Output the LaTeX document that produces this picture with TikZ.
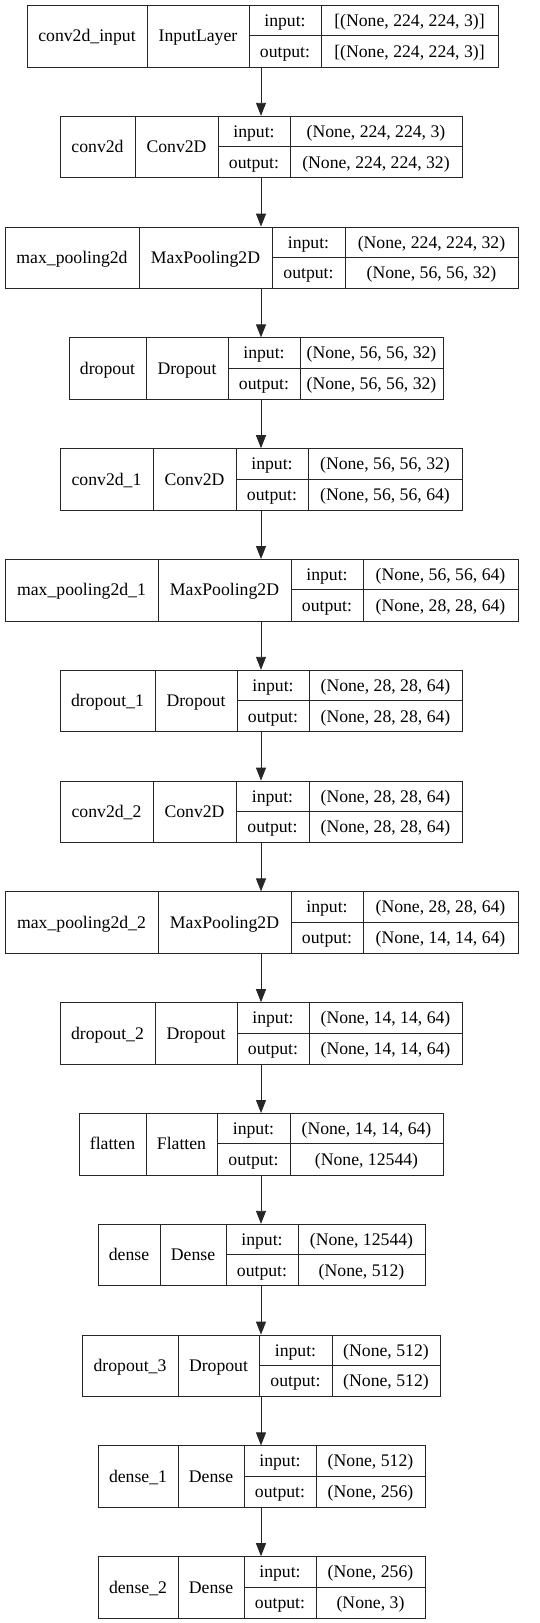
\documentclass[tikz,border=0pt]{standalone}
\usepackage{fontspec}
\setmainfont{Liberation Serif}
\usetikzlibrary{arrows.meta}
\tikzset{
  boxline/.style={draw=black!85, line width=0.9pt},
  cell/.style={inner sep=0pt, anchor=base, font=\fontsize{17.7}{20}\selectfont},
  arr/.style={draw=black!85, line width=0.9pt, -{Triangle[length=13pt,width=10pt]}}
}
\begin{document}
\begin{tikzpicture}[x=1pt,y=-1pt]
\useasboundingbox (0,0) rectangle (539,1623);
\fill[white] (0,0) rectangle (539,1623);
\coordinate (ax) at (261,0);
\foreach \i/\xa/\xb/\xc/\xd/\xe/\nm/\typ/\ish/\osh [evaluate=\i as \tp using 5+110.8*\i] in {
 0/27/147/249/321/498/{conv2d\_input}/{InputLayer}/{[(None, 224, 224, 3)]}/{[(None, 224, 224, 3)]},
 1/60/135/218/290/462/{conv2d}/{Conv2D}/{(None, 224, 224, 3)}/{(None, 224, 224, 32)},
 2/5/139/272/345/518/{max\_pooling2d}/{MaxPooling2D}/{(None, 224, 224, 32)}/{(None, 56, 56, 32)},
 3/69/146/228/300/443/{dropout}/{Dropout}/{(None, 56, 56, 32)}/{(None, 56, 56, 32)},
 4/60/153/236/308/462/{conv2d\_1}/{Conv2D}/{(None, 56, 56, 32)}/{(None, 56, 56, 64)},
 5/5/158/291/363/518/{max\_pooling2d\_1}/{MaxPooling2D}/{(None, 56, 56, 64)}/{(None, 28, 28, 64)},
 6/60/155/237/309/462/{dropout\_1}/{Dropout}/{(None, 28, 28, 64)}/{(None, 28, 28, 64)},
 7/60/153/236/309/462/{conv2d\_2}/{Conv2D}/{(None, 28, 28, 64)}/{(None, 28, 28, 64)},
 8/5/158/291/363/518/{max\_pooling2d\_2}/{MaxPooling2D}/{(None, 28, 28, 64)}/{(None, 14, 14, 64)},
 9/60/155/237/309/462/{dropout\_2}/{Dropout}/{(None, 14, 14, 64)}/{(None, 14, 14, 64)},
 10/79/146/217/290/443/{flatten}/{Flatten}/{(None, 14, 14, 64)}/{(None, 12544)},
 11/98/160/226/298/425/{dense}/{Dense}/{(None, 12544)}/{(None, 512)},
 12/82/178/259/332/440/{dropout\_3}/{Dropout}/{(None, 512)}/{(None, 512)},
 13/98/178/244/316/425/{dense\_1}/{Dense}/{(None, 512)}/{(None, 256)},
 14/98/178/244/316/425/{dense\_2}/{Dense}/{(None, 256)}/{(None, 3)}
}{
  \node[boxline, rectangle, inner sep=0pt, anchor=north west,
        minimum width={(\xe-\xa)*1pt}, minimum height=61.5pt] (L\i) at (\xa,\tp) {};
  \draw[boxline] (\xb,\tp) -- (\xb,{\tp+61.5});
  \draw[boxline] (\xc,\tp) -- (\xc,{\tp+61.5});
  \draw[boxline] (\xd,\tp) -- (\xd,{\tp+61.5});
  \draw[boxline] (\xc,{\tp+30.75}) -- (\xe,{\tp+30.75});
  \node[cell] (N\i) at ({(\xa+\xb)/2},{\tp+36.9}) {\nm};
  \node[cell] (T\i) at ({(\xb+\xc)/2},{\tp+36.9}) {\typ};
  \node[cell] (I\i) at ({(\xc+\xd)/2},{\tp+21.5}) {input:};
  \node[cell] (IS\i) at ({(\xd+\xe)/2},{\tp+21.5}) {\ish};
  \node[cell] (O\i) at ({(\xc+\xd)/2},{\tp+52.2}) {output:};
  \node[cell] (OS\i) at ({(\xd+\xe)/2},{\tp+52.2}) {\osh};
}
\foreach \i [evaluate=\i as \j using int(\i+1)] in {0,...,13}{
  \draw[arr] (L\i.south -| ax) -- (L\j.north -| ax);
}
\end{tikzpicture}
\end{document}
